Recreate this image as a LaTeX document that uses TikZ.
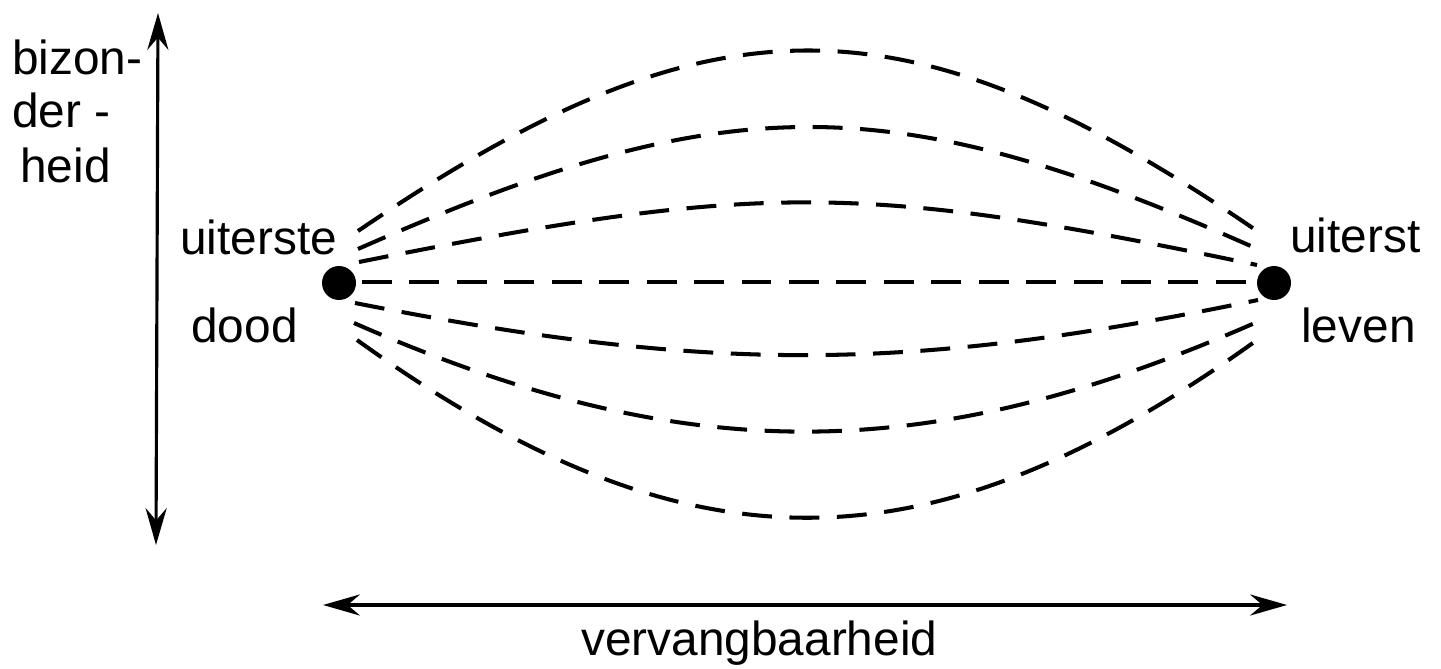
\documentclass[tikz,border=0pt]{standalone}
\usepackage{fontspec}
\setmainfont{Liberation Sans}
\usetikzlibrary{arrows.meta}
\begin{document}
\begin{tikzpicture}[x=0.02cm,y=-0.02cm,
  lbl/.style={inner sep=0pt,anchor=base west,font=\fontsize{27.2pt}{32pt}\selectfont},
  dot/.style={circle,fill=black,inner sep=0pt,minimum size=34*0.02cm},
  dsh/.style={line width=2.3pt,dash pattern=on 17pt off 10pt},
  tip/.style={Stealth[length=21pt,width=12pt,inset=7pt]},
  axis/.style={line width=1.8pt,{Stealth[length=21pt,width=12pt,inset=7pt]}-{Stealth[length=21pt,width=12pt,inset=7pt]}}]
\useasboundingbox (0,0) rectangle (1441,669);
% labels
\node[lbl] (b1) at (12,75) {bizon-};
\node[lbl] (b2) at (12,128) {der -};
\node[lbl] (b3) at (20,182) {heid};
\node[lbl] (ut1) at (180,255) {uiterste};
\node[lbl] (dd) at (191,342) {dood};
\node[lbl] (ut2) at (1290,253) {uiterst};
\node[lbl] (lv) at (1301,342) {leven};
\node[lbl] (vv) at (581,655) {vervangbaarheid};
% axes
\coordinate (vt) at (158,13);
\coordinate (vb) at (156,545);
\coordinate (hl) at (323,605);
\coordinate (hr) at (1287,605);
\draw[axis] (vb) -- (vt);
\draw[axis] (hl) -- (hr);
% curve end points
\coordinate (L1) at (358,231); \coordinate (R1) at (1260,233);
\coordinate (L2) at (358,249); \coordinate (R2) at (1262,251);
\coordinate (L3) at (359,262); \coordinate (R3) at (1257,265);
\coordinate (L4) at (362,282); \coordinate (R4) at (1248,282);
\coordinate (L5) at (355,303); \coordinate (R5) at (1258,300);
\coordinate (L6) at (354,323); \coordinate (R6) at (1257,322);
\coordinate (L7) at (357,340); \coordinate (R7) at (1257,340);
\draw[dsh] (L1) .. controls (712,-10) and (906,-10) .. (R1);
\draw[dsh] (L2) .. controls (728,86) and (892,86) .. (R2);
\draw[dsh] (L3) .. controls (760,182) and (860,182) .. (R3);
\draw[dsh] (L4) -- (R4);
\draw[dsh] (L5) .. controls (710,373) and (905,373) .. (R5);
\draw[dsh] (L6) .. controls (685,468) and (925,468) .. (R6);
\draw[dsh] (L7) .. controls (687,577) and (927,577) .. (R7);
% dots
\node[dot] (dl) at (339,283) {};
\node[dot] (dr) at (1274,283) {};
\end{tikzpicture}
\end{document}
